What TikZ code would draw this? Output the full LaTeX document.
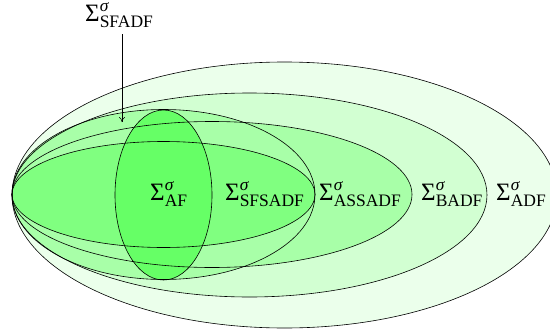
\documentclass[tikz,border=0pt]{standalone}
\usepackage{amsmath}
\usepackage{fontspec}
\setmainfont{Liberation Serif}
\usetikzlibrary{arrows.meta}
\definecolor{cadf}{RGB}{235,255,235}
\definecolor{cbadf}{RGB}{210,255,210}
\definecolor{cass}{RGB}{168,255,168}
\definecolor{csfs}{RGB}{128,255,128}
\definecolor{caf}{RGB}{102,255,102}
\newcommand{\setlab}[1]{Σ$^{\text{\itshape σ}}_{\text{#1}}$}
\tikzset{
  setline/.style={draw=black, line width=0.6pt},
  setlabel/.style={inner sep=0pt, anchor=base west, font=\fontsize{25}{29}\selectfont},
}
\begin{document}
\begin{tikzpicture}[x=1pt, y=-1pt]
\useasboundingbox (0,0) rectangle (550,335);
\clip (0,0) rectangle (550,335);
% fills
\fill[cadf]  (284.5,195) ellipse [x radius=272.5, y radius=133];
\fill[cbadf] (249.5,195) ellipse [x radius=237.5, y radius=102];
\fill[cass]  (212,194.5) ellipse [x radius=200, y radius=73];
\fill[cass]  (163.5,194.5) ellipse [x radius=151.5, y radius=85];
\fill[csfs]  (163.5,194.5) ellipse [x radius=151.5, y radius=53];
\fill[caf]   (163.5,195) ellipse [x radius=48.5, y radius=85];
% outlines
\draw[setline] (284.5,195) ellipse [x radius=272.5, y radius=133];
\draw[setline] (249.5,195) ellipse [x radius=237.5, y radius=102];
\draw[setline] (212,194.5) ellipse [x radius=200, y radius=73];
\draw[setline] (163.5,194.5) ellipse [x radius=151.5, y radius=85];
\draw[setline] (163.5,194.5) ellipse [x radius=151.5, y radius=53];
\draw[setline] (163.5,195) ellipse [x radius=48.5, y radius=85];
% labels
\node[setlabel] (laf)     at (150,200) {\setlab{AF}};
\node[setlabel] (lsfsadf) at (225,200) {\setlab{SFSADF}};
\node[setlabel] (lass)    at (319,200) {\setlab{ASSADF}};
\node[setlabel] (lbadf)   at (421,200) {\setlab{BADF}};
\node[setlabel] (ladf)    at (496,200) {\setlab{ADF}};
\node[setlabel] (lsfadf)  at (85,21)   {\setlab{SFADF}};
\coordinate (tip) at (122,122);
\draw[-{To[length=5pt,width=6pt]}, line width=0.5pt] (lsfadf.south -| tip) ++(0,6) -- (tip);
\end{tikzpicture}
\end{document}
